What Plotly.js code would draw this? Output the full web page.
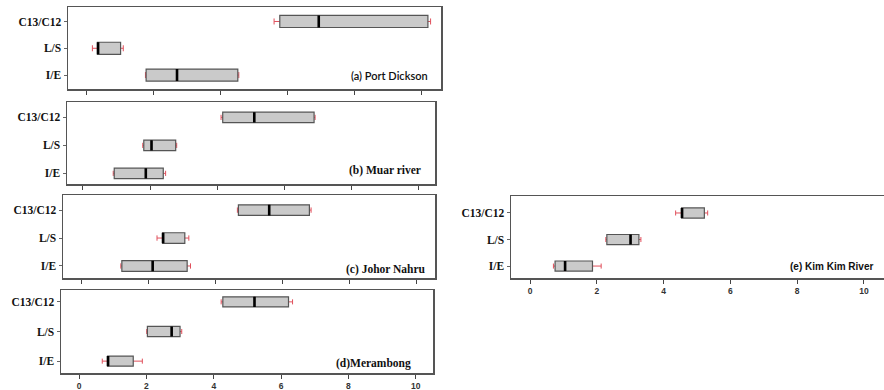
<!DOCTYPE html>
<html>
<head>
<meta charset="utf-8">
<script src="https://cdn.plot.ly/plotly-3.0.1.min.js"></script>
<style>html,body{margin:0;padding:0;background:#fff;}#chart{width:884px;height:390px;}</style>
</head>
<body>
<div id="chart"></div>
<script>
// Categories (top to bottom in each panel)
const categories = ['C13/C12', 'L/S', 'I/E'];
const xTicks = [0, 2, 4, 6, 8, 10];

// Panel names
const panelLabels = ['(a) Port Dickson', '(b) Muar river', '(c) Johor Nahru', '(d)Merambong', '(e) Kim Kim River'];

// (a) Port Dickson  [C13/C12, L/S, I/E]
const pdLower  = [5.60, 0.19, 1.77];
const pdQ1     = [5.77, 0.34, 1.79];
const pdMedian = [6.93, 0.36, 2.71];
const pdQ3     = [10.18, 1.03, 4.52];
const pdUpper  = [10.26, 1.11, 4.55];

// (b) Muar river
const muLower  = [4.11, 1.78, 0.90];
const muQ1     = [4.16, 1.81, 0.93];
const muMedian = [5.10, 2.04, 1.87];
const muQ3     = [6.88, 2.76, 2.39];
const muUpper  = [6.91, 2.79, 2.46];

// (c) Johor Nahru
const jnLower  = [4.64, 2.24, 1.16];
const jnQ1     = [4.67, 2.41, 1.19];
const jnMedian = [5.59, 2.42, 2.11];
const jnQ3     = [6.79, 3.07, 3.14];
const jnUpper  = [6.84, 3.19, 3.24];

// (d) Merambong
const meLower  = [4.22, 2.01, 0.69];
const meQ1     = [4.27, 2.03, 0.85];
const meMedian = [5.21, 2.75, 0.86];
const meQ3     = [6.22, 3.00, 1.61];
const meUpper  = [6.34, 3.05, 1.88];

// (e) Kim Kim River
const kkLower  = [4.36, 2.27, 0.70];
const kkQ1     = [4.54, 2.30, 0.75];
const kkMedian = [4.55, 3.01, 1.05];
const kkQ3     = [5.22, 3.26, 1.87];
const kkUpper  = [5.32, 3.32, 2.13];

const panelsData = [
  [pdLower, pdQ1, pdMedian, pdQ3, pdUpper],
  [muLower, muQ1, muMedian, muQ3, muUpper],
  [jnLower, jnQ1, jnMedian, jnQ3, jnUpper],
  [meLower, meQ1, meMedian, meQ3, meUpper],
  [kkLower, kkQ1, kkMedian, kkQ3, kkUpper]
];

// Layout geometry (pixels)
const W = 884, H = 390;
const geom = [
  {x0: 68,  x1: 441, y0: 7,   y1: 89,  xr: [-0.536, 10.57], yr: [-0.52, 2.54], bw: 0.45, labels: false, ann: {x: 0.97, y: 0.17, font: {family: 'Lato, "Open Sans", sans-serif', size: 11, weight: 600}}, rightLine: true},
  {x0: 67,  x1: 435, y0: 102, y1: 184, xr: [-0.476, 10.48], yr: [-0.38, 2.55], bw: 0.37, labels: false, ann: {x: 0.967, y: 0.16, font: {family: '"Liberation Serif", serif', size: 11.5, weight: 'bold'}}, rightLine: true},
  {x0: 63,  x1: 435, y0: 195, y1: 278, xr: [-0.567, 10.54], yr: [-0.43, 2.54], bw: 0.38, labels: false, ann: {x: 0.981, y: 0.10, font: {family: '"Liberation Serif", serif', size: 11.5, weight: 'bold'}}, rightLine: true},
  {x0: 61,  x1: 433, y0: 290, y1: 373, xr: [-0.535, 10.51], yr: [-0.40, 2.40], bw: 0.34, labels: true, ann: {x: 0.946, y: 0.12, font: {family: '"Liberation Serif", serif', size: 11.5, weight: 'bold'}}, rightLine: true},
  {x0: 511, x1: 884, y0: 196, y1: 278, xr: [-0.57, 10.6], yr: [-0.45, 2.64], bw: 0.38, labels: true, ann: {x: 0.976, y: 0.146, font: {family: '"Liberation Sans", Arial, sans-serif', size: 10, weight: 'bold'}}, rightLine: false}
];

const traces = [];
const layout = {
  width: W, height: H,
  margin: {l: 0, r: 0, t: 0, b: 0},
  paper_bgcolor: '#ffffff',
  plot_bgcolor: '#ffffff',
  showlegend: false,
  boxmode: 'overlay',
  annotations: []
};

panelsData.forEach((d, i) => {
  const g = geom[i];
  const n = i + 1;
  const xa = 'x' + (n === 1 ? '' : n);
  const ya = 'y' + (n === 1 ? '' : n);
  const [lo, q1, med, q3, up] = d;

  // whiskers (red): degenerate box at the median so only the whiskers show
  traces.push({
    type: 'box', orientation: 'h', xaxis: xa, yaxis: ya,
    y: categories, lowerfence: lo, q1: med, median: med, q3: med, upperfence: up,
    width: g.bw, whiskerwidth: 0.5,
    line: {color: '#e0505c', width: 1}, fillcolor: 'rgba(0,0,0,0)',
    hoverinfo: 'skip', showlegend: false
  });
  // boxes (gray)
  traces.push({
    type: 'box', orientation: 'h', xaxis: xa, yaxis: ya,
    y: categories, lowerfence: q1, q1: q1, median: med, q3: q3, upperfence: q3,
    width: g.bw, whiskerwidth: 0,
    line: {color: '#555555', width: 1.2}, fillcolor: '#cacaca',
    hoverinfo: 'skip', showlegend: false
  });
  // medians (thick black)
  traces.push({
    type: 'box', orientation: 'h', xaxis: xa, yaxis: ya,
    y: categories, lowerfence: med, q1: med, median: med, q3: med, upperfence: med,
    width: g.bw, whiskerwidth: 0,
    line: {color: '#000000', width: 2.6}, fillcolor: 'rgba(0,0,0,0)',
    hoverinfo: 'skip', showlegend: false
  });

  const axKeyX = 'xaxis' + (n === 1 ? '' : n);
  const axKeyY = 'yaxis' + (n === 1 ? '' : n);
  layout[axKeyX] = {
    domain: [g.x0 / W, g.x1 / W],
    anchor: ya,
    range: g.xr,
    tickmode: 'array', tickvals: xTicks, ticktext: xTicks.map(String),
    ticks: 'outside', ticklen: 4, tickwidth: 1, tickcolor: '#444',
    showticklabels: g.labels,
    tickfont: {family: '"Liberation Sans", Arial, sans-serif', size: 8.5, color: '#333', weight: 'bold'},
    showgrid: false, zeroline: false,
    showline: true, linecolor: '#555', linewidth: 1.5,
    mirror: true,
    fixedrange: true
  };
  layout[axKeyY] = {
    domain: [1 - g.y1 / H, 1 - g.y0 / H],
    anchor: xa,
    type: 'category',
    categoryorder: 'array', categoryarray: categories.slice().reverse(),
    range: g.yr,
    ticks: 'outside', ticklen: 3, tickwidth: 1, tickcolor: '#666',
    tickfont: {family: '"Liberation Serif", "Times New Roman", serif', size: 11.5, color: '#111', weight: 'bold'},
    showgrid: false, zeroline: false,
    showline: true, linecolor: '#555', linewidth: 1.5,
    mirror: g.rightLine ? true : false,
    fixedrange: true
  };
  layout.annotations.push({
    text: panelLabels[i],
    xref: xa + ' domain', yref: ya + ' domain',
    x: g.ann.x, y: g.ann.y, xanchor: 'right', yanchor: 'middle',
    showarrow: false,
    font: Object.assign({color: '#111'}, g.ann.font)
  });
});

Plotly.newPlot('chart', traces, layout, {staticPlot: true, displayModeBar: false});
</script>
</body>
</html>
